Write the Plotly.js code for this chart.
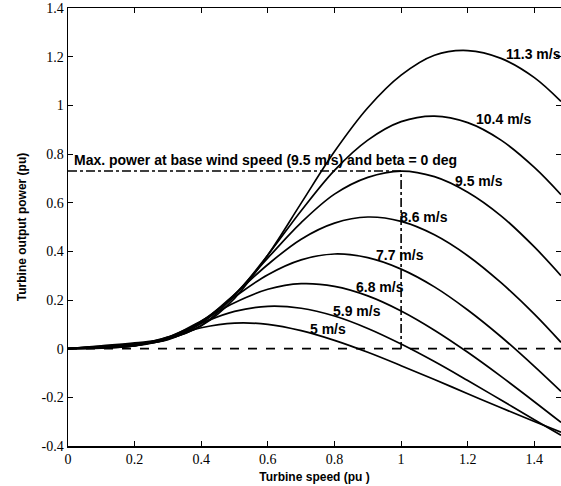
<!DOCTYPE html>
<html>
<head>
<meta charset="utf-8">
<script src="https://cdn.plot.ly/plotly-3.0.1.min.js"></script>
<style>html,body{margin:0;padding:0;background:#fff;}#chart{width:561px;height:486px;}</style>
</head>
<body>
<div id="chart"></div>
<script>
// Turbine speed (pu)
var speed = [0, 0.1, 0.2, 0.3, 0.4, 0.5, 0.6, 0.7, 0.8, 0.9, 1.0, 1.1, 1.2, 1.3, 1.4, 1.48];
// Turbine output power (pu) per wind speed
var p5   = [0, 0.002, 0.012, 0.048, 0.086, 0.105, 0.100, 0.074, 0.034, -0.015, -0.070, -0.127, -0.185, -0.243, -0.299, -0.343];
var p5_9 = [0, 0.003, 0.011, 0.048, 0.105, 0.153, 0.174, 0.166, 0.134, 0.083, 0.019, -0.053, -0.131, -0.211, -0.292, -0.356];
var p6_8 = [0, 0.004, 0.012, 0.045, 0.114, 0.189, 0.244, 0.267, 0.256, 0.217, 0.155, 0.076, -0.015, -0.114, -0.218, -0.303];
var p7_7 = [0, 0.006, 0.012, 0.040, 0.113, 0.213, 0.304, 0.365, 0.389, 0.374, 0.327, 0.254, 0.159, 0.049, -0.073, -0.176];
var p8_6 = [0, 0.007, 0.015, 0.039, 0.109, 0.223, 0.346, 0.450, 0.516, 0.541, 0.523, 0.468, 0.382, 0.271, 0.142, 0.026];
var p9_5 = [0, 0.008, 0.018, 0.037, 0.104, 0.222, 0.373, 0.518, 0.635, 0.704, 0.730, 0.707, 0.643, 0.546, 0.418, 0.300];
var p10_4= [0, 0.010, 0.020, 0.040, 0.095, 0.218, 0.385, 0.567, 0.733, 0.857, 0.933, 0.956, 0.929, 0.857, 0.745, 0.633];
var p11_3= [0, 0.012, 0.024, 0.041, 0.094, 0.207, 0.385, 0.598, 0.810, 0.990, 1.124, 1.206, 1.225, 1.193, 1.114, 1.016];
var seriesNames = ['5 m/s', '5.9 m/s', '6.8 m/s', '7.7 m/s', '8.6 m/s', '9.5 m/s', '10.4 m/s', '11.3 m/s'];
var seriesValues = [p5, p5_9, p6_8, p7_7, p8_6, p9_5, p10_4, p11_3];
// label anchor points (x, y) for the curve labels
var labelX = [0.72, 0.79, 0.86, 0.92, 0.99, 1.155, 1.22, 1.31];
var labelY = [0.08, 0.155, 0.255, 0.385, 0.54, 0.69, 0.945, 1.21];
// reference lines
var baseSpeed = 1.0;
var basePower = 0.73;
var xTickVals = [0, 0.2, 0.4, 0.6, 0.8, 1, 1.2, 1.4];
var xTickText = ['0', '0.2', '0.4', '0.6', '0.8', '1', '1.2', '1.4'];
var yTickVals = [-0.4, -0.2, 0, 0.2, 0.4, 0.6, 0.8, 1, 1.2, 1.4];
var yTickText = ['-0.4', '-0.2', '0', '0.2', '0.4', '0.6', '0.8', '1', '1.2', '1.4'];
var xMax = 1.48;

var traces = [];
traces.push({x: [0, xMax], y: [0, 0], mode: 'lines', line: {color: '#000', width: 1.6, dash: 'dash'}, hoverinfo: 'skip'});
traces.push({x: [0, baseSpeed, baseSpeed], y: [basePower, basePower, 0], mode: 'lines', line: {color: '#000', width: 1.6, dash: 'dashdot'}, hoverinfo: 'skip'});
for (var i = 0; i < seriesValues.length; i++) {
  traces.push({x: speed, y: seriesValues[i], name: seriesNames[i], mode: 'lines',
    line: {color: '#000', width: 1.7, shape: 'spline', smoothing: 1}});
}

var labFont = {family: 'Liberation Sans', size: 14, color: '#000', weight: 'bold'};
var ann = [];
for (var j = 0; j < seriesNames.length; j++) {
  ann.push({x: labelX[j], y: labelY[j], text: seriesNames[j], showarrow: false, xanchor: 'left', yanchor: 'middle', font: labFont});
}
ann.push({x: 0.012, y: 0.776, text: 'Max. power at base wind speed (9.5 m/s) and beta = 0 deg', showarrow: false,
  xanchor: 'left', yanchor: 'middle', font: labFont});

var tickFont = {family: 'Liberation Serif', size: 14, color: '#000'};
var titleFont = {family: 'Liberation Sans', size: 12, color: '#000', weight: 'bold'};

var layout = {
  width: 561, height: 486,
  margin: {l: 68, r: 0, t: 8, b: 40},
  paper_bgcolor: '#fff', plot_bgcolor: '#fff',
  showlegend: false,
  font: {family: 'Liberation Serif'},
  xaxis: {range: [0, xMax], tickvals: xTickVals, ticktext: xTickText, ticks: 'inside', ticklen: 5, tickcolor: '#000',
    showline: true, linecolor: '#000', linewidth: 1.5, mirror: 'ticks', showgrid: false, zeroline: false,
    tickfont: tickFont, title: {text: 'Turbine speed (pu )', font: titleFont, standoff: 6}},
  yaxis: {range: [-0.4, 1.4], tickvals: yTickVals, ticktext: yTickText, ticks: 'inside', ticklen: 5, tickcolor: '#000',
    showline: true, linecolor: '#000', linewidth: 1.5, mirror: 'ticks', showgrid: false, zeroline: false,
    tickfont: tickFont, title: {text: 'Turbine output power (pu)', font: titleFont, standoff: 12}},
  annotations: ann
};
Plotly.newPlot('chart', traces, layout, {displayModeBar: false, staticPlot: true});
</script>
</body>
</html>
